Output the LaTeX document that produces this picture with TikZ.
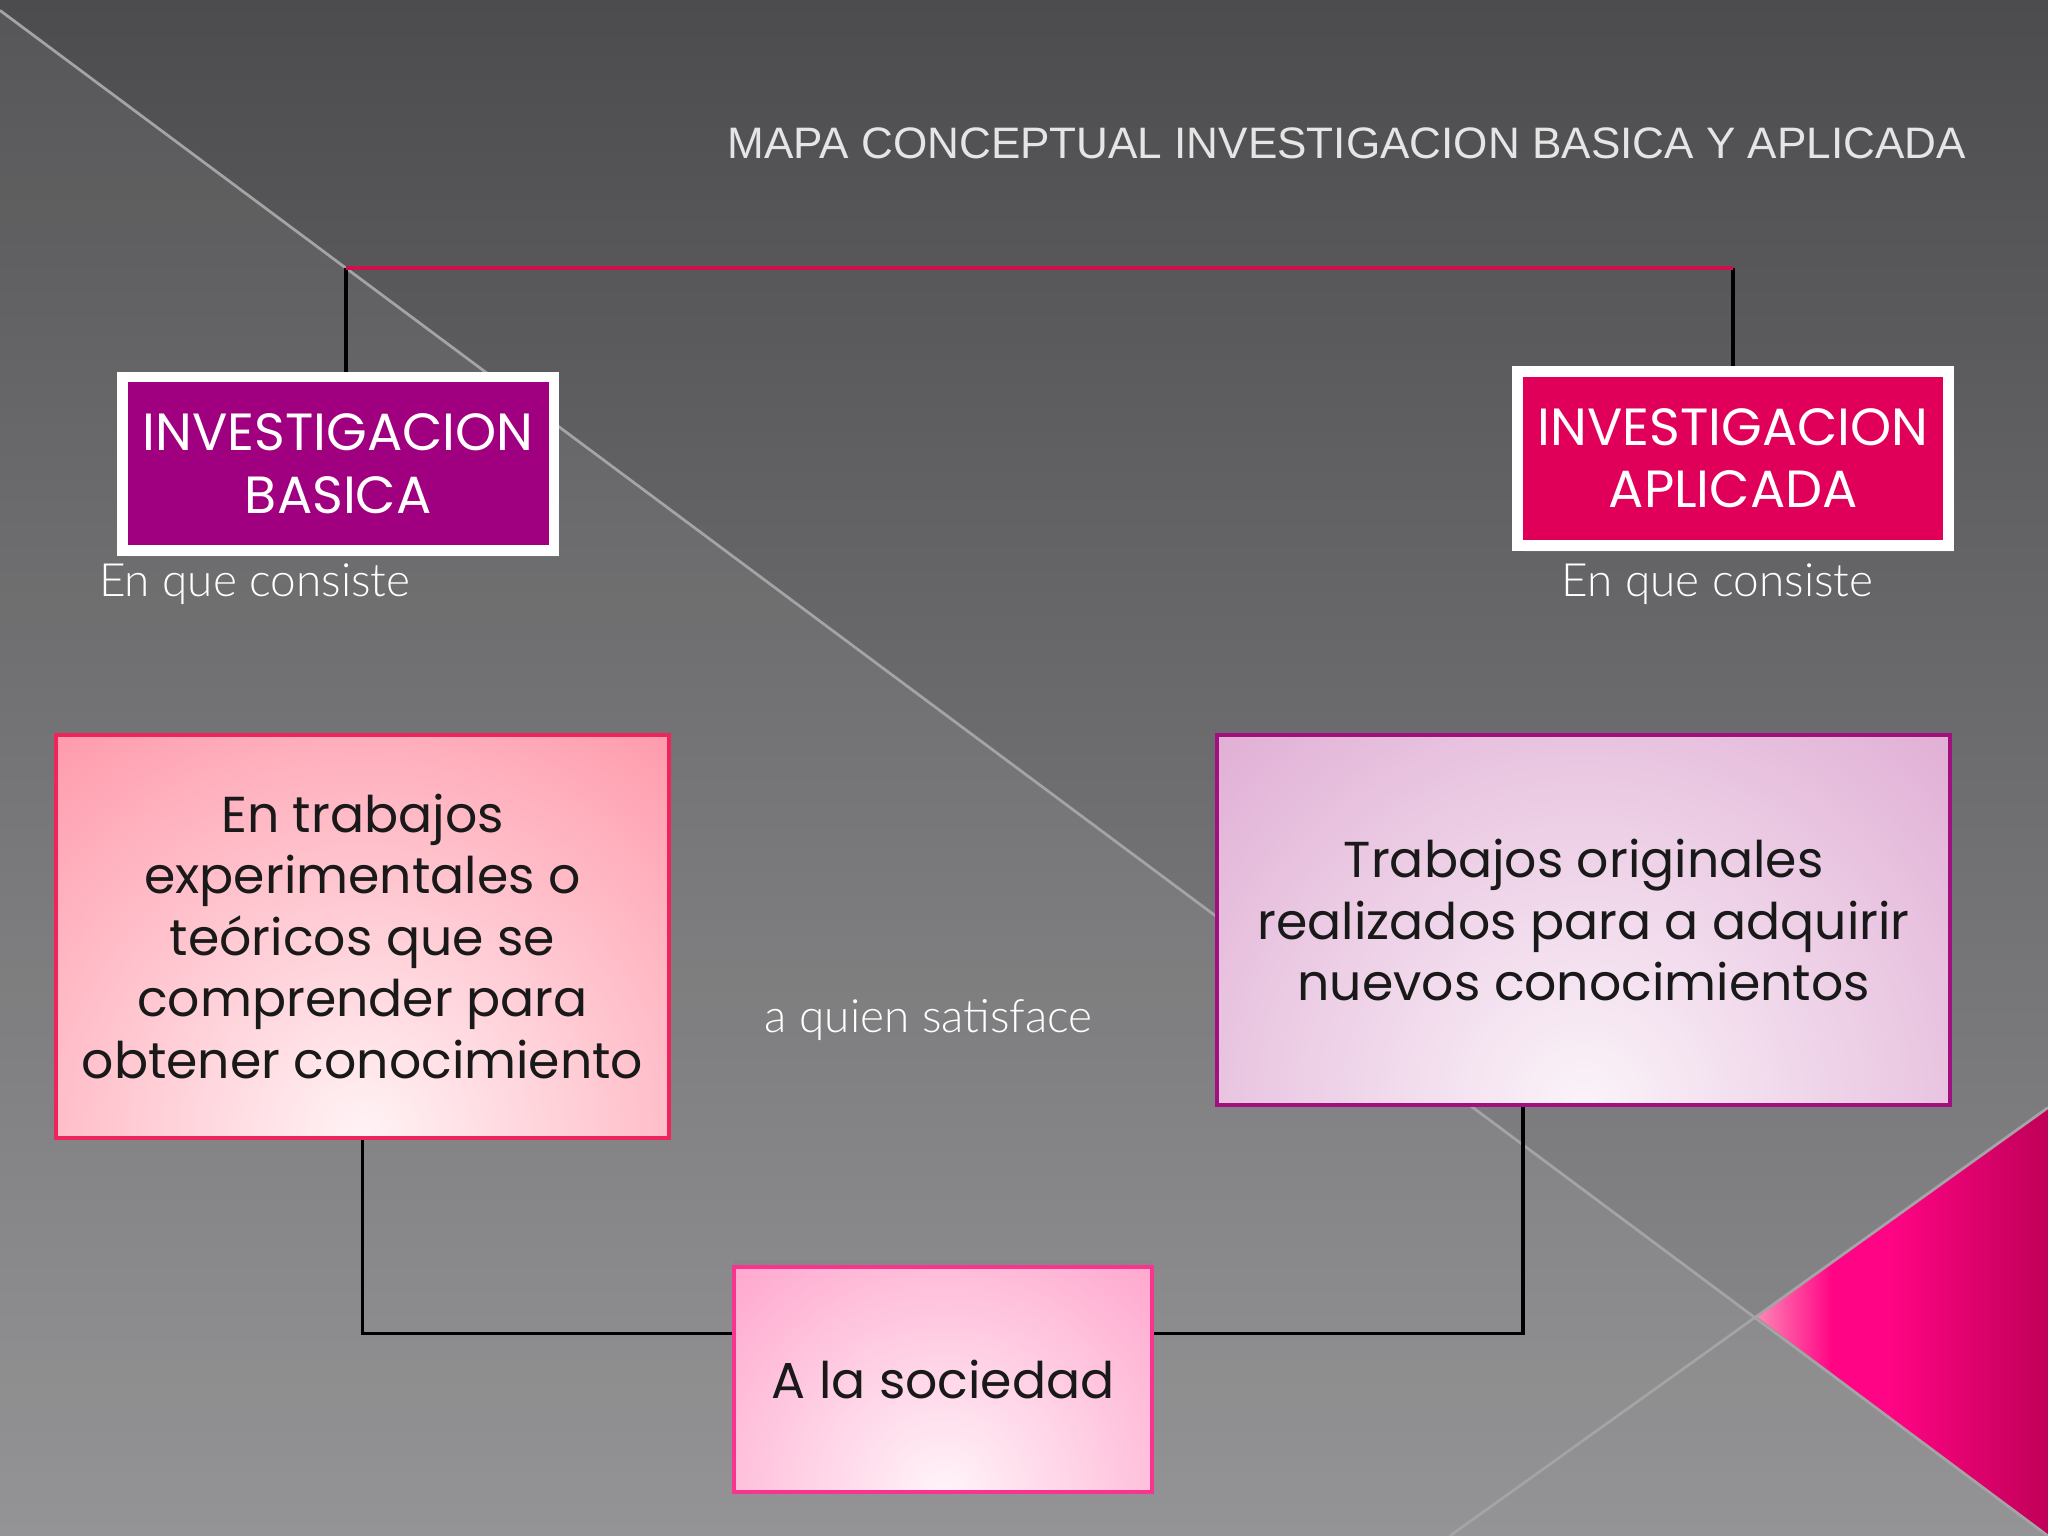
\documentclass[tikz,border=0pt]{standalone}
\usepackage{fontspec}
\setmainfont{Poppins}
\newfontfamily\thinfont{Lato Light}
\newfontfamily\titlefont{Liberation Sans}
\usetikzlibrary{shadows}

\definecolor{bgtop}{HTML}{4C4C4E}
\definecolor{bgbot}{HTML}{8E8E90}
\definecolor{diag}{HTML}{A4A4A6}
\definecolor{purp}{HTML}{A0007F}
\definecolor{crim}{HTML}{E0005A}
\definecolor{rose}{HTML}{FF8A9E}
\definecolor{roseline}{HTML}{F0245C}
\definecolor{lilac}{HTML}{DA9ECC}
\definecolor{lilacline}{HTML}{A0107F}
\definecolor{candy}{HTML}{FF8CBE}
\definecolor{candyline}{HTML}{F8348E}
\definecolor{topline}{HTML}{D0104A}
\definecolor{tipL}{HTML}{FF86B6}
\definecolor{tipM}{HTML}{FF0484}
\definecolor{tipR}{HTML}{C00058}
\pgfdeclarehorizontalshading{tipshade}{100bp}{color(0bp)=(tipL); color(25bp)=(tipL);
  color(38bp)=(tipM); color(48bp)=(tipM); color(75bp)=(tipR); color(100bp)=(tipR)}

\begin{document}
\begin{tikzpicture}[
  head/.style={draw=white, line width=2.3pt, fill=#1, text=white, align=center,
    minimum width=3.3cm, minimum height=1.33cm, font=\fontsize{11.4}{13.6}\selectfont,
    drop shadow={opacity=0.35, shadow xshift=0.04cm, shadow yshift=-0.05cm}},
  soft/.style n args={4}{draw=#1, line width=0.9pt, align=center, text=black!90,
    font=\fontsize{11}{13.4}\selectfont,
    path picture={
      \fill[#2] (path picture bounding box.south west) rectangle (path picture bounding box.north east);
      \shade[inner color=#3, outer color=#2] (path picture bounding box.south) circle (#4);
    }},
  note/.style={text=white, font=\thinfont\fontsize{10}{12}\selectfont},
  link/.style={black, line width=0.8pt}
]
  \useasboundingbox (0,0) rectangle (15.68,11.76);

  % background
  \shade[top color=bgtop, bottom color=bgbot] (0,0) rectangle (15.68,11.76);
  \fill[white, opacity=0.06] (0,11.68) -- (15.68,0) -- (0,0) -- cycle;
  \shade[shading=tipshade] (13.45,1.68) -- (15.68,3.28) -- (15.68,0) -- cycle;
  \draw[diag, line width=0.6pt] (0,11.68) -- (15.68,0);
  \draw[diag, line width=0.6pt] (11.1,0) -- (15.68,3.28);

  \node[font=\titlefont\fontsize{9.6}{11}\selectfont, text=white!90!black] (title) at (10.31,10.66)
    {MAPA CONCEPTUAL INVESTIGACION BASICA Y APLICADA};

  \node[head=purp] (basica) at (2.59,8.21) {INVESTIGACION\\BASICA};
  \node[head=crim] (aplicada) at (13.27,8.25) {INVESTIGACION\\APLICADA};
  \node[note] (consisteB) at (1.95,7.29) {En que consiste};
  \node[note] (consisteA) at (13.15,7.29) {En que consiste};

  \node[soft={roseline}{rose}{white!90!rose}{4.6cm}, minimum width=4.69cm, minimum height=3.08cm]
    (trabajosB) at (2.775,4.59)
    {En trabajos\\experimentales o\\teóricos que se\\comprender para\\obtener conocimiento};
  \node[soft={lilacline}{lilac}{white!88!lilac}{5cm}, minimum width=5.61cm, minimum height=2.83cm]
    (trabajosA) at (12.125,4.715)
    {Trabajos originales\\realizados para a adquirir\\nuevos conocimientos};
  \node[note] (satisface) at (7.11,3.95) {a quien satisface};
  \node[soft={candyline}{candy}{white!90!candy}{3.2cm}, minimum width=3.2cm, minimum height=1.72cm,
    drop shadow={opacity=0.3, shadow xshift=0cm, shadow yshift=0.05cm}]
    (sociedad) at (7.22,1.20) {A la sociedad};

  % connectors
  \coordinate (topL) at (2.65,9.71);
  \coordinate (topR) at (13.27,9.71);
  \coordinate (botL) at (2.775,1.55);
  \coordinate (botR) at (11.66,1.55);
  \draw[link] (topL) -- (topL |- basica.north);
  \draw[link] (topR) -- (aplicada.north);
  \draw[topline, line width=0.8pt] (topL) -- (topR);
  \draw[link] (trabajosB.south) -- (botL) -- (botL -| sociedad.west);
  \draw[link] (botL -| sociedad.east) -- (botR) -- (botR |- trabajosA.south);
\end{tikzpicture}
\end{document}
